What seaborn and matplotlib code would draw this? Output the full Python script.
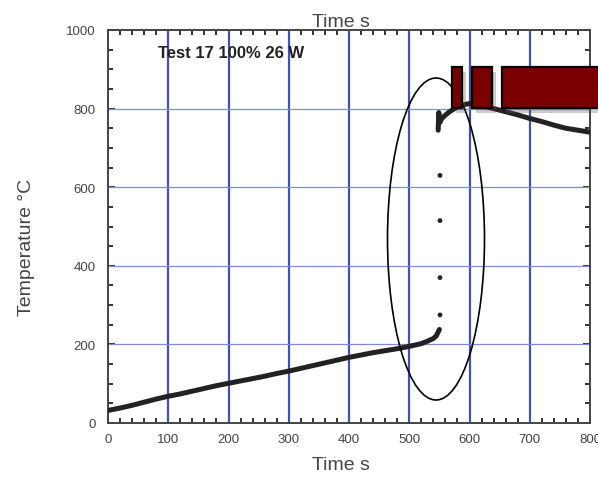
import matplotlib
matplotlib.use("Agg")
import matplotlib.pyplot as plt
import seaborn as sns
import pandas as pd
from matplotlib.patches import Ellipse, Rectangle
from matplotlib.ticker import MultipleLocator

# ---- data ----
time_low = [0, 20, 40, 60, 80, 100, 120, 140, 160, 180, 200, 220, 240, 260, 280,
            300, 320, 340, 360, 380, 400, 420, 440, 460, 480, 500, 520, 530, 540, 545, 550]
temp_low = [32, 38, 45, 53, 61, 68, 74, 81, 88, 95, 101, 107, 113, 119, 126,
            132, 139, 146, 153, 160, 167, 173, 179, 184, 189, 195, 202, 208, 215, 222, 238]

time_jump = [551, 551, 551, 551]
temp_jump = [275, 370, 515, 630]

time_high = [548, 549, 551, 553, 556, 565, 575, 585, 600, 620, 650, 680, 700, 720, 740, 760, 780, 800]
temp_high = [745, 790, 765, 772, 778, 790, 800, 808, 813, 808, 796, 784, 775, 767, 758, 750, 745, 740]

x_ticks = [0, 100, 200, 300, 400, 500, 600, 700, 800]
y_ticks = [0, 200, 400, 600, 800, 1000]
annotation = "Test 17 100% 26 W"

sns.set_theme(style="white")
plt.rcParams['font.family'] = ['Liberation Sans', 'DejaVu Sans']

fig = plt.figure(figsize=(5.98, 4.81), dpi=100)
ax = fig.add_axes([108/598, 1-424/481, (590-108)/598, (424-31)/481])

# grid
for xv in x_ticks[1:-1]:
    ax.axvline(xv, color='#4052b0', lw=1.6, zorder=1)
for yv in y_ticks[1:-1]:
    ax.axhline(yv, color='#7f8cd6', lw=0.9, zorder=1)

df_low = pd.DataFrame({"t": time_low, "T": temp_low})
df_high = pd.DataFrame({"t": time_high, "T": temp_high})
df_jump = pd.DataFrame({"t": time_jump, "T": temp_jump})
sns.lineplot(data=df_low, x="t", y="T", ax=ax, color='#222222', lw=3.6, sort=False, zorder=3)
sns.lineplot(data=df_high, x="t", y="T", ax=ax, color='#222222', lw=3.6, sort=False, zorder=3)
sns.scatterplot(data=df_jump, x="t", y="T", ax=ax, color='#222222', s=12, edgecolor='none', zorder=3)

ax.set_xlim(0, 800)
ax.set_ylim(0, 1000)
ax.set_xticks(x_ticks)
ax.set_yticks(y_ticks)
ax.xaxis.set_minor_locator(MultipleLocator(20))
ax.yaxis.set_minor_locator(MultipleLocator(50))
ax.tick_params(axis='both', which='both', direction='in', top=True, right=True,
               bottom=True, left=True, colors='#333333', width=1.4)
ax.tick_params(which='major', length=5)
ax.tick_params(which='minor', length=3.5)
ax.tick_params(axis='x', which='major', pad=7, labelsize=9.5, labelcolor='#444444')
ax.tick_params(axis='y', which='major', pad=9, labelsize=9.5, labelcolor='#444444')
for s in ax.spines.values():
    s.set_color('#444444')
    s.set_linewidth(1.4)

ax.set_xlabel("Time s", fontsize=14, color='#444444')
ax.xaxis.set_label_coords(0.483, -0.085)
ax.set_ylabel("Temperature \u00b0C", fontsize=14, color='#444444')
ax.yaxis.set_label_coords(-0.152, 0.448)
ax.set_title("Time s", fontsize=14, color='#444444', pad=3, x=0.483)

ax.text(0.104, 0.944, annotation, transform=ax.transAxes, fontsize=12,
        fontweight='bold', color='#222222', ha='left', va='center', zorder=5)

# ellipse outline (figure pixel coords)
W, H = 598, 481
ell = Ellipse((436/W, 1-240/H), 97/W, 322/H, transform=fig.transFigure,
              fill=False, ec='black', lw=1.2, zorder=6)
fig.patches.append(ell)

# dark red boxes with shadow
boxes = [(452, 462), (472, 492), (502, 600)]
for x0, x1 in boxes:
    sh = Rectangle(((x0+4)/W, 1-(109+5)/H), (x1-x0)/W, 41/H, transform=fig.transFigure,
                   fc='#555555', ec='none', alpha=0.3, zorder=7)
    fig.patches.append(sh)
for x0, x1 in boxes:
    r = Rectangle((x0/W, 1-109/H), (x1-x0)/W, 41/H, transform=fig.transFigure,
                  fc='#7a0000', ec='black', lw=1.6, zorder=8)
    fig.patches.append(r)

fig.savefig("out.png", dpi=100)
